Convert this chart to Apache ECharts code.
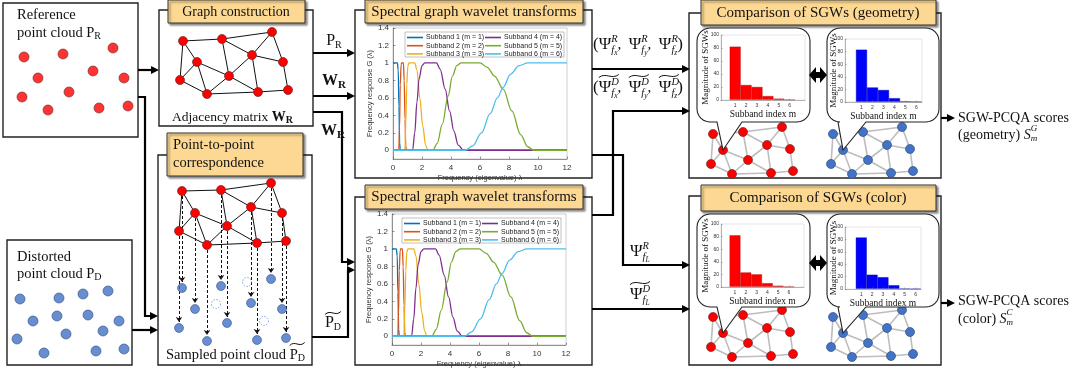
<!DOCTYPE html>
<html>
<head>
<meta charset="utf-8">
<script src="https://cdn.jsdelivr.net/npm/echarts@6/dist/echarts.min.js"></script>
<style>
html,body{margin:0;padding:0;background:#fff}
#main{width:1086px;height:375px}
</style>
</head>
<body>
<div id="main"></div>
<script>
var SERIF = '"Liberation Serif","Times New Roman",serif';
var SANS = '"Liberation Sans","DejaVu Sans",sans-serif';

// ---- spectral graph wavelet responses, [lambda, G] ----
var subbandNames = ['Subband 1 (m = 1)', 'Subband 2 (m = 2)', 'Subband 3 (m = 3)',
                    'Subband 4 (m = 4)', 'Subband 5 (m = 5)', 'Subband 6 (m = 6)'];
var subbandColors = ['#0072BD', '#D95319', '#EDB120', '#7E2F8E', '#77AC30', '#4DBEEE'];
var subband1 = [[0,1],[0.3,1],[0.36,0.92],[0.41,0.5],[0.46,0.08],[0.5,0],[12,0]];
var subband2 = [[0,0],[0.4,0],[0.45,0.25],[0.5,0.75],[0.56,0.98],[0.6,1],[0.72,1],[0.77,0.8],[0.83,0.35],[0.88,0.05],[0.92,0],[12,0]];
var subband3 = [[0,0],[0.82,0],[0.88,0.3],[0.95,0.75],[1.02,0.96],[1.1,1],[1.5,1],[1.65,0.92],[1.85,0.6],[2.05,0.28],[2.25,0.06],[2.4,0],[12,0]];
var subband4 = [[0,0],[1.35,0],[1.5,0.2],[1.65,0.55],[1.8,0.82],[2.0,0.97],[2.2,1],[3.0,1],[3.25,0.93],[3.6,0.7],[3.9,0.45],[4.2,0.22],[4.5,0.06],[4.85,0],[12,0]];
var subband5 = [[0,0],[2.75,0],[3.05,0.08],[3.4,0.3],[3.8,0.62],[4.1,0.85],[4.4,0.97],[4.7,1],[6.0,1],[6.5,0.95],[7.0,0.85],[7.6,0.7],[8.2,0.45],[8.8,0.18],[9.3,0.04],[9.7,0],[12,0]];
var subband6 = [[0,0],[5.0,0],[5.5,0.05],[6.1,0.2],[6.7,0.42],[7.2,0.6],[7.6,0.72],[8.1,0.87],[8.7,0.97],[9.3,1],[12,1]];
var responseTicks = [0, 0.2, 0.4, 0.6, 0.8, 1, 1.2, 1.4];

// ---- SGW magnitudes per subband ----
var subbandIndex = [1, 2, 3, 4, 5, 6];
var geomRefMag = [82, 23, 20, 6, 2, 0.5];
var geomDistMag = [83, 23, 19, 6, 1, 0.5];
var colorRefMag = [82, 23, 20, 6, 2, 0.5];
var colorDistMag = [83, 23, 19, 6, 0.6, 0.3];

// ---- point clouds / graphs (local panel units) ----
var refCloud = [[21,54],[60,51],[110,45],[35,75],[90,68],[121,75],[19,94],[66,89],[45,107],[96,105],[125,103]];
var distCloud = [[13,59],[52,58],[76,54],[101,51],[26,81],[50,76],[81,75],[112,81],[10,99],[59,94],[96,91],[37,113],[89,111],[117,109]];
var graphNodes = [[23,16],[62,14],[112,7],[37,37],[92,30],[123,37],[20,55],[69,51],[47,69],[98,67],[128,65]];
var graphEdges = [[0,1],[1,2],[0,3],[0,6],[3,6],[3,8],[3,7],[6,8],[8,7],[7,1],[7,4],[1,4],[4,2],[2,5],[4,5],[4,9],[7,9],[8,9],[9,10],[5,10]];
var corrRefNodes = [[24,16],[63,15],[113,8],[37,38],[93,32],[124,38],[21,56],[69,51],[49,70],[99,68],[128,66]];
var corrSampledNodes = [[24,113],[63,111],[113,104],[37,134],[93,128],[124,134],[21,153],[69,148],[49,166],[99,165],[128,163]];
var corrMissing = [[89,107],[58,129],[106,146]];
var compNodes = [[13,14],[43,12],[82,7],[23,30],[67,25],[90,29],[11,44],[48,40],[32,54],[71,53],[93,51]];

var grids = [], xAxes = [], yAxes = [], series = [], legends = [], g = [];

function addGrid(left, top, w, h, extra) {
  grids.push(Object.assign({left: left, top: top, width: w, height: h}, extra || {}));
  return grids.length - 1;
}
function hiddenPanel(left, top, w, h) {
  var gi = addGrid(left, top, w, h);
  xAxes.push({gridIndex: gi, type: 'value', min: 0, max: w, show: false});
  yAxes.push({gridIndex: gi, type: 'value', min: 0, max: h, inverse: true, show: false});
  return gi;
}

function spectralPanel(left, top, legLeft, legTop) {
  var gi = addGrid(left, top, 174, 131, {show: true, borderColor: '#b0b0b0', borderWidth: 0.6});
  var ax = {color: '#555', width: 0.6};
  xAxes.push({gridIndex: gi, type: 'value', min: 0, max: 12, interval: 2,
    name: 'Frequency (eigenvalue) λ', nameLocation: 'middle', nameGap: 15,
    nameTextStyle: {fontFamily: SANS, fontSize: 7.5, color: '#333'},
    axisLine: {onZero: false, lineStyle: ax}, axisTick: {inside: true, length: 2.5, lineStyle: ax},
    axisLabel: {fontFamily: SANS, fontSize: 8, color: '#333', margin: 5}, splitLine: {show: false}, z: 1});
  yAxes.push({gridIndex: gi, type: 'value', min: -0.1, max: 1.4,
    name: 'Frequency response G (λ)', nameLocation: 'middle', nameGap: 17,
    nameTextStyle: {fontFamily: SANS, fontSize: 7.5, color: '#333'},
    axisLine: {show: true, onZero: false, lineStyle: ax},
    axisTick: {show: true, inside: true, length: 2.5, customValues: responseTicks, lineStyle: ax},
    axisLabel: {customValues: responseTicks, fontFamily: SANS, fontSize: 8, color: '#333', margin: 4,
      formatter: function (v) { return String(Math.round(v * 10) / 10); }},
    splitLine: {show: false}, z: 1});
  [subband1, subband2, subband3, subband4, subband5, subband6].forEach(function (d, i) {
    series.push({type: 'line', name: subbandNames[i], xAxisIndex: gi, yAxisIndex: gi, data: d,
      symbol: 'none', smooth: 0.35, smoothMonotone: 'x',
      lineStyle: {width: 1.3, color: subbandColors[i]}, itemStyle: {color: subbandColors[i]}, z: 2});
  });
  var legBase = {orient: 'vertical', padding: 0, icon: 'rect', itemWidth: 16, itemHeight: 1.6, itemGap: 1.2,
    selectedMode: false, textStyle: {fontFamily: SANS, fontSize: 7, color: '#222', padding: [0, 0, 0, -2]}};
  legends.push(Object.assign({}, legBase, {left: legLeft, top: legTop + 1, data: subbandNames.slice(0, 3)}));
  legends.push(Object.assign({}, legBase, {left: legLeft + 78, top: legTop + 1, data: subbandNames.slice(3)}));
  g.push({type: 'rect', shape: {x: legLeft - 2, y: legTop - 1, width: 159, height: 25},
    style: {fill: '#fff', stroke: '#999', lineWidth: 0.6}, z: 3});
}

function barPanel(left, top, w, h, xmin, xmax, values, color, border, nameGap) {
  var gi = addGrid(left, top, w, h, {show: true, borderColor: '#c8c8c8', borderWidth: 0.5, z: 5});
  var ax = {color: '#777', width: 0.5};
  xAxes.push({gridIndex: gi, type: 'value', min: xmin, max: xmax,
    name: 'Subband index m', nameLocation: 'middle', nameGap: 9, nameMoveOverlap: false,
    nameTextStyle: {fontFamily: SERIF, fontSize: 9.5, color: '#111'},
    axisLine: {onZero: false, lineStyle: ax},
    axisTick: {customValues: subbandIndex, inside: true, length: 1.5, lineStyle: ax},
    axisLabel: {customValues: subbandIndex, fontFamily: SANS, fontSize: 5, color: '#333', margin: 3},
    splitLine: {show: false}, z: 5});
  yAxes.push({gridIndex: gi, type: 'value', min: 0, max: 100, interval: 20,
    name: 'Magnitude of SGWs', nameLocation: 'middle', nameGap: nameGap, nameMoveOverlap: false,
    nameTextStyle: {fontFamily: SERIF, fontSize: 9, color: '#111'},
    axisLine: {show: true, onZero: false, lineStyle: ax},
    axisTick: {show: true, inside: true, length: 1.5, lineStyle: ax},
    axisLabel: {fontFamily: SANS, fontSize: 5, color: '#333', margin: 2},
    splitLine: {show: false}, z: 5});
  series.push({type: 'bar', xAxisIndex: gi, yAxisIndex: gi,
    data: subbandIndex.map(function (m, i) { return [m, values[i]]; }),
    barWidth: w / (xmax - xmin), itemStyle: {color: color, borderColor: border, borderWidth: 0.4}, z: 4});
}

function graphSeries(gi, nodes, color, border, edgeColor, edgeWidth, size, z) {
  series.push({type: 'graph', coordinateSystem: 'cartesian2d', xAxisIndex: gi, yAxisIndex: gi,
    data: nodes, links: graphEdges.map(function (e) { return {source: e[0], target: e[1]}; }),
    symbolSize: size, itemStyle: {color: color, borderColor: border, borderWidth: 0.7},
    lineStyle: {color: edgeColor, width: edgeWidth, opacity: 1, curveness: 0},
    label: {show: false}, silent: true, z: z});
}

// ---- charts ----
spectralPanel(393, 28, 407, 33);
spectralPanel(392, 214, 404, 219);
barPanel(721, 35, 84, 65, -0.3, 7.4, geomRefMag, '#FF0000', '#B00000', 11);
barPanel(845, 39, 77, 63, -0.5, 6.5, geomDistMag, '#0000FF', '#0000A0', 6.5);
barPanel(721, 224, 83, 63, -0.3, 7.4, colorRefMag, '#FF0000', '#B00000', 11);
barPanel(845, 227, 76, 62, -0.5, 6.5, colorDistMag, '#0000FF', '#0000A0', 6.5);

var RED = '#FF0000', RED_B = '#6b2a2a', BLUE = '#4472C4', BLUE_B = '#2d4f8a';

var gRef = hiddenPanel(3, 3, 135, 134);
series.push({type: 'scatter', xAxisIndex: gRef, yAxisIndex: gRef, data: refCloud, symbolSize: 10,
  itemStyle: {color: RED, borderColor: RED_B, borderWidth: 0.8}, z: 2});
var gDist = hiddenPanel(7, 240, 125, 125);
series.push({type: 'scatter', xAxisIndex: gDist, yAxisIndex: gDist, data: distCloud, symbolSize: 10,
  itemStyle: {color: BLUE, borderColor: BLUE_B, borderWidth: 0.8}, z: 2});
var gGraph = hiddenPanel(160, 25, 150, 80);
graphSeries(gGraph, graphNodes, RED, RED_B, '#111', 1, 9, 2);

var gCorr = hiddenPanel(158, 175, 155, 175);
series.push({type: 'lines', coordinateSystem: 'cartesian2d', xAxisIndex: gCorr, yAxisIndex: gCorr,
  data: corrRefNodes.map(function (p, i) {
    return {coords: [p, [corrSampledNodes[i][0], corrSampledNodes[i][1] - 6]]};
  }),
  symbol: ['none', 'arrow'], symbolSize: 5,
  lineStyle: {color: '#111', width: 1, type: [3, 2], opacity: 1}, silent: true, z: 1});
graphSeries(gCorr, corrRefNodes, RED, RED_B, '#111', 1, 9, 2);
series.push({type: 'scatter', xAxisIndex: gCorr, yAxisIndex: gCorr, data: corrSampledNodes, symbolSize: 9,
  itemStyle: {color: BLUE, borderColor: BLUE_B, borderWidth: 0.7}, z: 2});
series.push({type: 'scatter', xAxisIndex: gCorr, yAxisIndex: gCorr, data: corrMissing, symbolSize: 9,
  itemStyle: {color: 'rgba(0,0,0,0)', borderColor: BLUE, borderWidth: 0.8, borderType: [1.5, 1.5]}, z: 2});

[[700, 120, RED, RED_B], [820, 120, BLUE, BLUE_B], [700, 303, RED, RED_B], [820, 303, BLUE, BLUE_B]].forEach(function (c) {
  var gi = hiddenPanel(c[0], c[1], 105, 60);
  graphSeries(gi, compNodes, c[2], c[3], '#bdbdbd', 1.6, 9, 1);
});

// ---- layout graphics ----
var mctx = document.createElement('canvas').getContext('2d');
function fontOf(p) {
  return (p.italic ? 'italic ' : '') + (p.bold ? 'bold ' : '') + p.size + 'px ' + (p.family || SERIF);
}
function measure(p) { mctx.font = fontOf(p); return mctx.measureText(p.t).width; }
function seq(x, y, parts, align) {
  var widths = parts.map(function (p) { return p.tilde ? 0 : measure(p); });
  var total = 0;
  parts.forEach(function (p, i) { if (!p.keep) total += widths[i]; });
  var cx = align === 'center' ? x - total / 2 : x;
  parts.forEach(function (p, i) {
    var yy = y + (p.dy || 0);
    if (p.tilde) {
      var w = p.tilde;
      g.push({type: 'bezierCurve', shape: {x1: cx, y1: yy + 1.5, cpx1: cx + w * 0.35, cpy1: yy - 4,
        cpx2: cx + w * 0.65, cpy2: yy + 4, x2: cx + w, y2: yy - 1.5},
        style: {stroke: '#111', lineWidth: 1, fill: 'none'}, z: 6});
    } else {
      g.push({type: 'text', x: cx, y: yy, style: {text: p.t, font: fontOf(p), fill: '#111',
        align: 'left', verticalAlign: 'middle'}, z: 6});
    }
    if (!p.keep) cx += widths[i];
  });
}
function box(x, y, w, h) {
  g.push({type: 'rect', shape: {x: x, y: y, width: w, height: h},
    style: {fill: 'none', stroke: '#222', lineWidth: 1.4}, z: 0});
}
function header(x, y, w, h, lines, size) {
  g.push({type: 'rect', shape: {x: x, y: y, width: w, height: h},
    style: {fill: '#FDD892', stroke: '#333', lineWidth: 1, shadowColor: 'rgba(0,0,0,0.45)',
      shadowBlur: 2, shadowOffsetX: 2, shadowOffsetY: 2}, z: 1});
  lines.forEach(function (l) { seq(l[0], l[1], [{t: l[2], size: size}], l[3]); });
}
function arrow(pts, lw) {
  var n = pts.length, a = pts[n - 2], b = pts[n - 1];
  var dx = b[0] - a[0], dy = b[1] - a[1], L = Math.sqrt(dx * dx + dy * dy), ux = dx / L, uy = dy / L;
  var hl = 8, hw = 4;
  var base = [b[0] - ux * hl, b[1] - uy * hl];
  g.push({type: 'polyline', shape: {points: pts.slice(0, n - 1).concat([base])},
    style: {stroke: '#000', lineWidth: lw || 2.2, fill: 'none'}, z: 1});
  g.push({type: 'polygon', shape: {points: [b, [base[0] - uy * hw, base[1] + ux * hw], [base[0] + uy * hw, base[1] - ux * hw]]},
    style: {fill: '#000'}, z: 1});
}
function bubble(x, y, w, h, r, t1, t2, tip) {
  var pts = [];
  function arc(cx, cy, a0, a1) {
    for (var k = 0; k <= 6; k++) {
      var a = a0 + (a1 - a0) * k / 6;
      pts.push([cx + r * Math.cos(a), cy + r * Math.sin(a)]);
    }
  }
  var P = Math.PI;
  arc(x + r, y + r, P, 1.5 * P);
  arc(x + w - r, y + r, 1.5 * P, 2 * P);
  arc(x + w - r, y + h - r, 0, 0.5 * P);
  pts.push([t2, y + h], tip, [t1, y + h]);
  arc(x + r, y + h - r, 0.5 * P, P);
  g.push({type: 'polygon', shape: {points: pts}, style: {fill: '#fff', stroke: '#222', lineWidth: 1.1}, z: 3});
}
function doubleArrow(cx, cy) {
  g.push({type: 'polygon', shape: {points: [[cx - 9, cy], [cx - 2, cy - 8], [cx - 2, cy - 3], [cx + 2, cy - 3],
    [cx + 2, cy - 8], [cx + 9, cy], [cx + 2, cy + 8], [cx + 2, cy + 3], [cx - 2, cy + 3], [cx - 2, cy + 8]]},
    style: {fill: '#000'}, z: 3});
}
function psi(sup, subParts, tilde) {
  var out = [];
  if (tilde) out.push({tilde: 20, dy: -12, keep: true});
  out.push({t: 'Ψ', size: 17});
  out.push({t: sup, size: 10.5, italic: true, dy: -6, keep: true});
  subParts.forEach(function (s) { out.push(s); });
  return out;
}
function fsub(letter) {
  return [{t: 'f', size: 10.5, italic: true, dy: 5}, {t: letter, size: 7.5, italic: true, dy: 8}];
}

// boxes
box(3, 3, 135, 134);
box(7, 240, 125, 125);
box(159, 10, 154, 116);
box(158, 155, 154, 210);
box(355, 10, 237, 168);
box(355, 197, 237, 168);
box(689, 13, 252, 165);
box(689, 196, 252, 169);

header(168, 0, 137, 23, [[236, 12, 'Graph construction', 'center']], 14);
header(167, 133, 136, 43, [[173, 145, 'Point-to-point', 'left'], [173, 163, 'correspondence', 'left']], 14.5);
header(365, 0, 218, 23, [[474, 12, 'Spectral graph wavelet transforms', 'center']], 15);
header(365, 185, 218, 24, [[474, 197, 'Spectral graph wavelet transforms', 'center']], 15);
header(701, 0, 235, 25, [[818, 13, 'Comparison of SGWs (geometry)', 'center']], 15);
header(701, 185, 235, 26, [[818, 198, 'Comparison of SGWs (color)', 'center']], 15);

// box texts
seq(17, 15, [{t: 'Reference', size: 14.5}]);
seq(17, 33, [{t: 'point cloud P', size: 14.5}, {t: 'R', size: 10, dy: 3}]);
seq(17, 257, [{t: 'Distorted', size: 14.5}]);
seq(17, 274, [{t: 'point cloud P', size: 14.5}, {t: 'D', size: 10, dy: 3}]);
seq(172, 117, [{t: 'Adjacency matrix ', size: 13.5}, {t: 'W', size: 14, bold: true}, {t: 'R', size: 10, bold: true, dy: 3}]);
seq(166, 355, [{t: 'Sampled point cloud ', size: 14.5}, {tilde: 15, dy: -11, keep: true},
  {t: 'P', size: 14.5}, {t: 'D', size: 10, dy: 3}]);

// arrows on the left
arrow([[138, 70], [159, 70]]);
arrow([[138, 97], [145, 97], [145, 316], [158, 316]]);
arrow([[132, 330], [158, 330]]);
arrow([[313, 53], [355, 53]]);
arrow([[313, 96], [355, 96]]);
arrow([[313, 112], [342, 112], [342, 262], [355, 262]]);
arrow([[312, 337], [348, 337], [348, 270], [355, 270]]);
seq(334, 41, [{t: 'P', size: 16}, {t: 'R', size: 10, dy: 4}], 'center');
seq(334, 81, [{t: 'W', size: 16, bold: true}, {t: 'R', size: 11, bold: true, dy: 4}], 'center');
seq(333, 131, [{t: 'W', size: 16, bold: true}, {t: 'R', size: 11, bold: true, dy: 4}], 'center');
seq(333, 323, [{tilde: 16, dy: -10, keep: true}, {t: 'P', size: 16}, {t: 'D', size: 10, dy: 4}], 'center');

// arrows in the middle
arrow([[592, 69], [690, 69]]);
arrow([[592, 215], [613, 215], [613, 111], [690, 111]]);
arrow([[592, 155], [623, 155], [623, 265], [690, 265]]);
arrow([[592, 309], [690, 309]]);
var comma = {t: ',  ', size: 15};
seq(638, 45, [{t: '(', size: 17}].concat(psi('R', fsub('x')), [comma], psi('R', fsub('y')), [comma],
  psi('R', fsub('z')), [{t: ')', size: 17}]), 'center');
seq(638, 88, [{t: '(', size: 17}].concat(psi('D', fsub('x'), true), [comma], psi('D', fsub('y'), true), [comma],
  psi('D', fsub('z'), true), [{t: ')', size: 17}]), 'center');
seq(630, 252, psi('R', fsub('L')));
seq(630, 295, psi('D', fsub('L'), true));

// comparison bubbles
bubble(697, 28, 113, 94, 13, 717, 742, [723, 150]);
bubble(827, 28, 112, 94, 13, 838, 866, [843, 150]);
bubble(697, 214, 113, 93, 13, 717, 742, [723, 333]);
bubble(827, 214, 112, 93, 13, 838, 866, [843, 333]);
doubleArrow(818, 75);
doubleArrow(818, 263);

// outputs
arrow([[941, 118], [955, 118]]);
arrow([[941, 303], [955, 303]]);
seq(958, 118, [{t: 'SGW-PCQA scores', size: 14}]);
seq(958, 135, [{t: '(geometry) ', size: 14}, {t: 'S', size: 14, italic: true},
  {t: 'G', size: 9, italic: true, dy: -6, keep: true}, {t: 'm', size: 9, italic: true, dy: 4}]);
seq(958, 301, [{t: 'SGW-PCQA scores', size: 14}]);
seq(958, 319, [{t: '(color) ', size: 14}, {t: 'S', size: 14, italic: true},
  {t: 'C', size: 9, italic: true, dy: -6, keep: true}, {t: 'm', size: 9, italic: true, dy: 4}]);

var chart = echarts.init(document.getElementById('main'), null, {renderer: 'canvas'});
chart.setOption({
  backgroundColor: '#fff',
  animation: false,
  grid: grids,
  xAxis: xAxes,
  yAxis: yAxes,
  legend: legends,
  series: series,
  graphic: {elements: g}
});
</script>
</body>
</html>
